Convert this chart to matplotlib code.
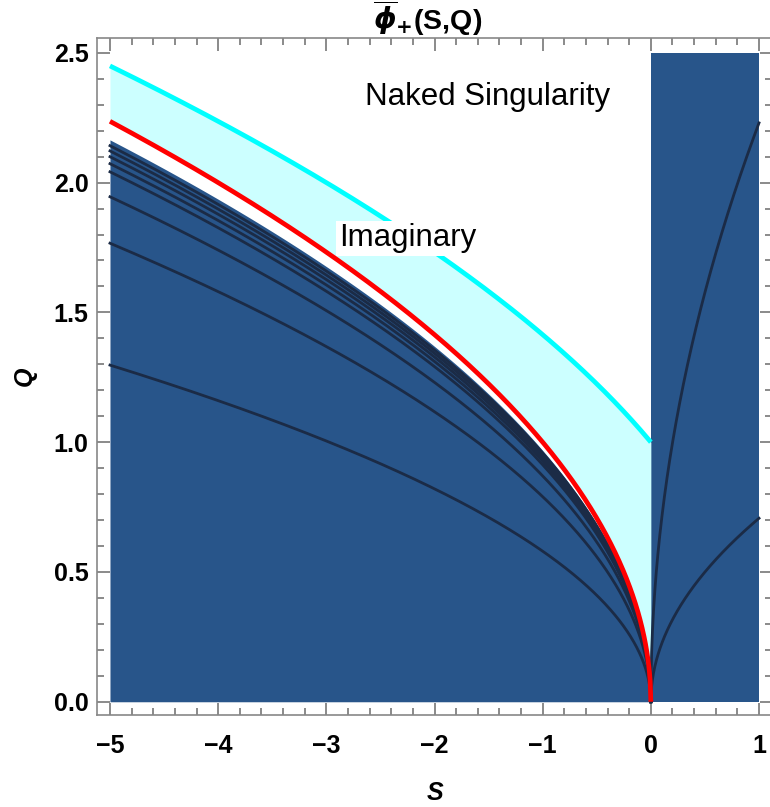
import numpy as np
import matplotlib.pyplot as plt
from matplotlib.ticker import MultipleLocator

plt.rcParams['font.family'] = ['Liberation Sans', 'DejaVu Sans']
plt.rcParams['mathtext.fontset'] = 'custom'
plt.rcParams['mathtext.rm'] = 'Liberation Sans:bold'
plt.rcParams['mathtext.bf'] = 'DejaVu Sans:bold'
plt.rcParams['mathtext.it'] = 'DejaVu Sans:bold:italic'

# contour levels: Q = c * sqrt(|S|)
left_levels = [0.58, 0.79, 0.87, 0.913, 0.927, 0.939, 0.949, 0.958]
right_levels = [0.707, 2.23]
dark_edge = 0.968      # top of the filled (real) region, S < 0
red_coef = 1.0         # boundary Q = sqrt(-S)
cyan_shift = 1.0       # naked-singularity edge Q = sqrt(shift - S)
s_min, s_max, q_max = -5.0, 1.0, 2.5

dark = '#28558a'
line_col = '#1b2b46'

fig = plt.figure(figsize=(7.7, 8.07), dpi=100)
ax = fig.add_axes([97 / 770, 1 - 715 / 807, 675 / 770, 677 / 807])

sl = np.linspace(s_min, 0, 800)
sr = np.linspace(0, s_max, 400)

# filled regions
ax.fill_between(sl, 0, dark_edge * np.sqrt(-sl), color=dark, lw=0, zorder=1)
ax.fill_between(sr, 0, q_max, color=dark, lw=0, zorder=1)
ax.fill_between(sl, red_coef * np.sqrt(-sl), np.sqrt(cyan_shift - sl),
                color='#ccffff', lw=0, zorder=1)

# contour lines
for c in left_levels:
    ax.plot(sl, c * np.sqrt(-sl), color=line_col, lw=2.0, zorder=2)
for c in right_levels:
    ax.plot(sr, c * np.sqrt(sr), color=line_col, lw=2.0, zorder=2)

ax.plot(sl, red_coef * np.sqrt(-sl), color='#ff0000', lw=3.4, zorder=3,
        solid_capstyle='butt')
ax.plot(sl, np.sqrt(cyan_shift - sl), color='#00ffff', lw=3.4, zorder=3,
        solid_capstyle='butt')

ax.text(-1.51, 2.33, 'Naked Singularity', fontsize=22.5, ha='center', va='center')
ax.text(-2.25, 1.785, 'Imaginary', fontsize=22.5, ha='center', va='center',
        bbox=dict(facecolor='white', edgecolor='none', pad=2), zorder=4)

ax.set_xlim(-5.12, 1.12)
ax.set_ylim(-0.051, 2.557)

ax.xaxis.set_major_locator(MultipleLocator(1))
ax.xaxis.set_minor_locator(MultipleLocator(0.2))
ax.yaxis.set_major_locator(MultipleLocator(0.5))
ax.yaxis.set_minor_locator(MultipleLocator(0.1))
ax.set_xticks([-5, -4, -3, -2, -1, 0, 1])
ax.set_xticklabels(['\u22125', '\u22124', '\u22123', '\u22122', '\u22121', '0', '1'])
ax.set_yticks([0, 0.5, 1.0, 1.5, 2.0, 2.5])
ax.set_yticklabels(['0.0', '0.5', '1.0', '1.5', '2.0', '2.5'])

ax.tick_params(which='both', direction='in', top=True, right=True,
               color='#777777', width=1.2)
ax.tick_params(which='major', length=9, labelsize=18)
ax.tick_params(axis='x', which='major', pad=14)
ax.tick_params(axis='y', which='major', pad=6)
ax.tick_params(which='minor', length=5)
for lab in ax.get_xticklabels() + ax.get_yticklabels():
    lab.set_fontweight('bold')
for sp in ax.spines.values():
    sp.set_color('#888888')
    sp.set_linewidth(1.2)

ax.set_xlabel('S', fontsize=18, fontweight='bold', fontstyle='italic', labelpad=16)
ax.set_ylabel('Q', fontsize=18, fontweight='bold', fontstyle='italic', labelpad=12)
ax.set_title(r'$\overline{\phi}_{\mathbf{+}}$(S,Q)', fontsize=20.5,
             fontweight='bold', pad=2, x=0.49)

fig.savefig('out.png', dpi=100)
